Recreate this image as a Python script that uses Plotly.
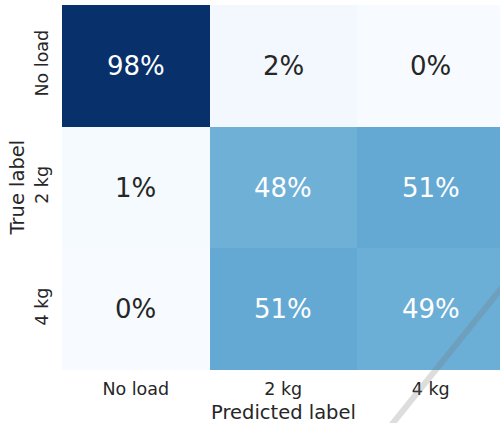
import plotly.graph_objects as go

# Confusion matrix (row-normalised, percent)
true_labels = ["No load", "2 kg", "4 kg"]
pred_labels = ["No load", "2 kg", "4 kg"]
row_no_load = [98, 2, 0]
row_2kg = [1, 48, 51]
row_4kg = [0, 51, 49]
matrix = [row_no_load, row_2kg, row_4kg]

# Matplotlib-style "Blues" ramp
blues = ["#f7fbff", "#deebf7", "#c6dbef", "#9ecae1", "#6baed6",
         "#4292c6", "#2171b5", "#08519c", "#08306b"]
colorscale = [[i / (len(blues) - 1), c] for i, c in enumerate(blues)]

FONT = "DejaVu Sans"
INK = "#262626"
zmin = min(min(r) for r in matrix)
zmax = max(max(r) for r in matrix)

fig = go.Figure(go.Heatmap(
    z=matrix,
    x=list(range(len(pred_labels))),
    y=list(range(len(true_labels))),
    colorscale=colorscale,
    zmin=zmin, zmax=zmax,
    showscale=False,
    hoverinfo="skip",
))

# Cell annotations: white text on dark cells, dark text on light ones
for i, row in enumerate(matrix):
    for j, v in enumerate(row):
        frac = (v - zmin) / (zmax - zmin)
        fig.add_annotation(
            x=j, y=i, text=f"{v}%", showarrow=False,
            font=dict(family=FONT, size=26, color="white" if frac > 0.4 else INK),
        )

# Axis titles
fig.add_annotation(
    xref="paper", yref="paper", x=(283.5 - 62) / 438, y=-(412 - 370) / 365,
    text="Predicted label", showarrow=False, xanchor="center", yanchor="middle",
    font=dict(family=FONT, size=19.5, color=INK),
)
fig.add_annotation(
    xref="paper", yref="paper", x=-(62 - 17) / 438, y=0.5,
    text="True label", showarrow=False, textangle=-90,
    xanchor="center", yanchor="middle",
    font=dict(family=FONT, size=19.5, color=INK),
)

# Faint diagonal stroke across the lower-right corner
fig.add_shape(
    type="line", xref="paper", yref="paper",
    x0=0.7313, y0=-0.1816, x1=1.03, y1=0.264,
    line=dict(color="rgba(120,120,120,0.25)", width=6),
    layer="above",
)

fig.update_xaxes(
    range=[-0.5, -0.5 + 438 / 147.5],
    tickvals=list(range(len(pred_labels))), ticktext=pred_labels,
    ticks="outside", ticklen=3, tickcolor="rgba(0,0,0,0)",
    tickfont=dict(family=FONT, size=17.5, color=INK),
    showgrid=False, zeroline=False, showline=False,
)
fig.update_yaxes(
    range=[2.5, -0.5],
    tickvals=list(range(len(true_labels))), ticktext=true_labels,
    tickangle=-90,
    ticks="outside", ticklen=6, tickcolor="rgba(0,0,0,0)",
    tickfont=dict(family=FONT, size=17.5, color=INK),
    showgrid=False, zeroline=False, showline=False,
)

fig.update_layout(
    width=500, height=423,
    margin=dict(l=62, r=0, t=5, b=53),
    paper_bgcolor="white", plot_bgcolor="white",
    font=dict(family=FONT, color=INK),
    showlegend=False,
)

fig.write_html("out.html")
